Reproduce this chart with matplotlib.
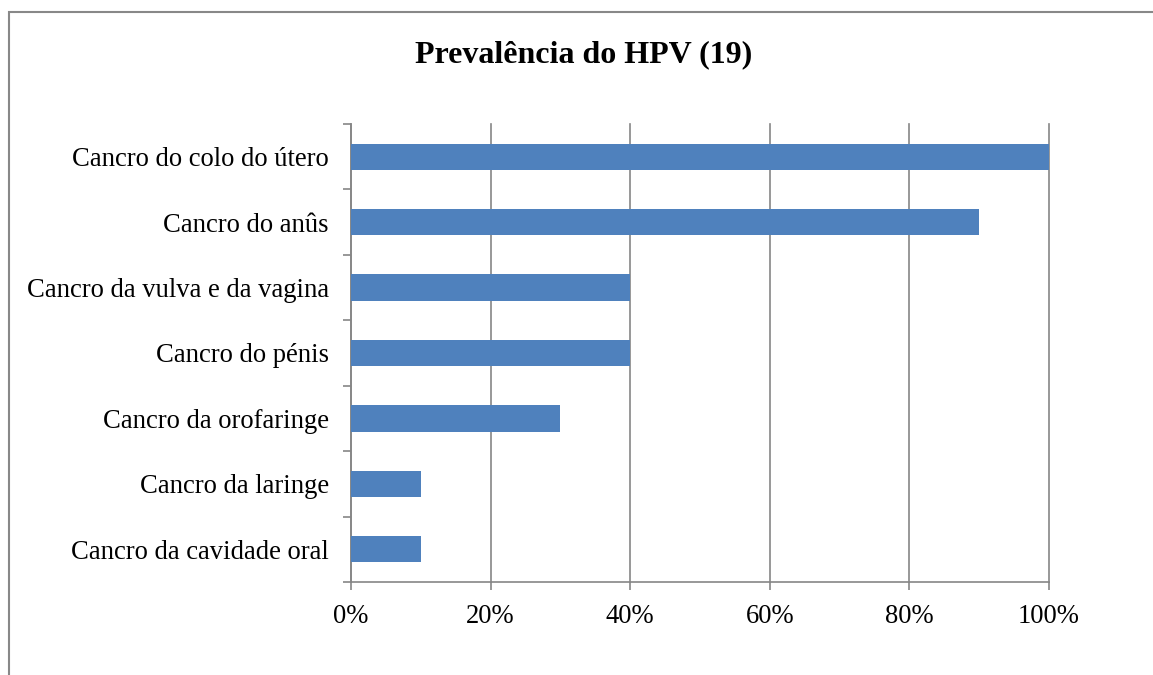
import matplotlib
matplotlib.use('Agg')
import matplotlib.pyplot as plt
from matplotlib.patches import Rectangle
from matplotlib.ticker import FixedLocator, PercentFormatter

# dados (de baixo para cima)
categorias = ['Cancro da cavidade oral', 'Cancro da laringe', 'Cancro da orofaringe',
              'Cancro do pénis', 'Cancro da vulva e da vagina', 'Cancro do anûs',
              'Cancro do colo do útero']
prevalencia = [10, 10, 30, 40, 40, 90, 100]

plt.rcParams['font.family'] = ['Liberation Serif', 'DejaVu Serif']

fig = plt.figure(figsize=(11.53, 6.75), dpi=100)
ax = fig.add_axes([351 / 1153, 1 - 582 / 675, 698 / 1153, 458 / 675])

# borda do gráfico (estilo Excel)
fig.patches.append(Rectangle((9 / 1153, -0.1), 1.2, 1 - 12 / 675 + 0.1,
                             transform=fig.transFigure, fill=False,
                             edgecolor='#888888', linewidth=1.5))

pos = range(len(categorias))
ax.barh(pos, prevalencia, height=0.4, color='#4F81BD', zorder=3)

ax.set_xlim(0, 100)
ax.set_ylim(-0.5, len(categorias) - 0.5)
ax.set_xticks([0, 20, 40, 60, 80, 100])
ax.xaxis.set_major_formatter(PercentFormatter(decimals=0))
ax.grid(axis='x', color='#868686', linewidth=1.2, zorder=0)
for ln in ax.get_xgridlines():
    ln.set_clip_on(False)

ax.set_yticks(list(pos))
ax.set_yticklabels(categorias)
ax.yaxis.set_minor_locator(FixedLocator([i - 0.5 for i in range(len(categorias) + 1)]))
ax.tick_params(axis='y', which='major', length=0, pad=16, labelsize=19.2)
ax.tick_params(axis='y', which='minor', length=6, width=1.2, color='#868686')
ax.tick_params(axis='x', length=6, width=1.2, color='#868686', pad=10, labelsize=19.2)

for s in ['top', 'right']:
    ax.spines[s].set_visible(False)
for s in ['left', 'bottom']:
    ax.spines[s].set_color('#868686')
    ax.spines[s].set_linewidth(1.2)

fig.text(584 / 1153, 1 - 62 / 675, 'Prevalência do HPV (19)', ha='center', va='baseline',
         fontsize=23, fontweight='bold')

fig.savefig('out.png', dpi=100)
plt.close()
